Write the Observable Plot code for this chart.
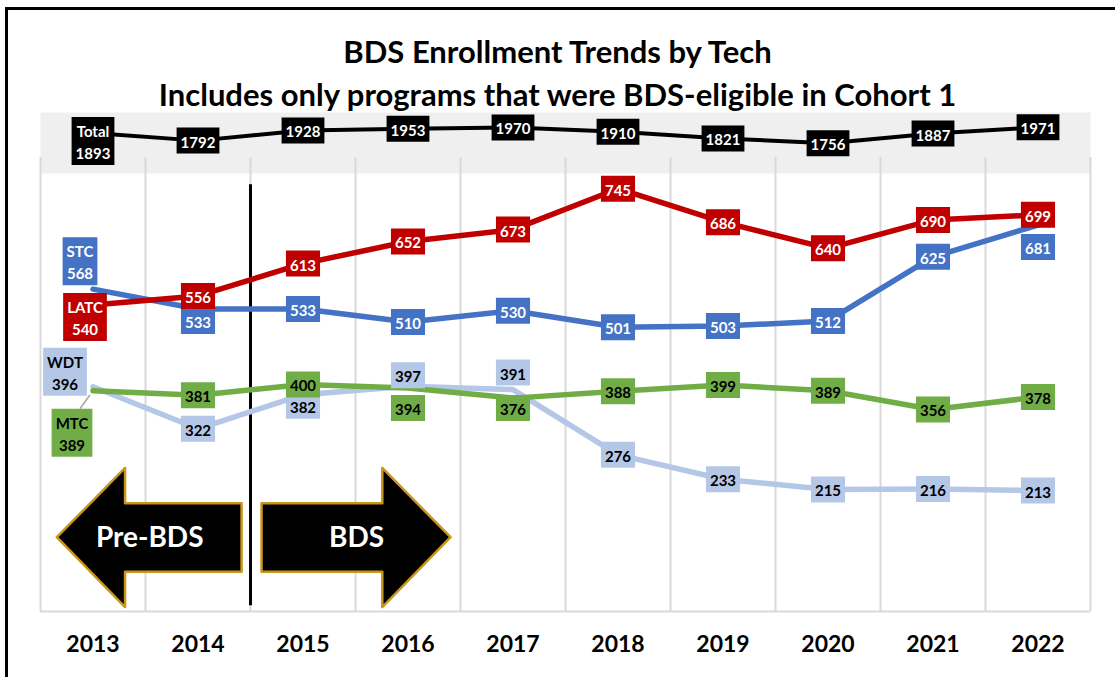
<!DOCTYPE html>
<html>
<head>
<meta charset="utf-8">
<script src="https://cdn.jsdelivr.net/npm/d3@7"></script>
<script src="https://cdn.jsdelivr.net/npm/@observablehq/plot@0.6"></script>
<style>
  html, body { margin: 0; padding: 0; background: #fff; overflow: hidden; }
  #wrap { position: relative; width: 1115px; height: 677px; overflow: hidden; font-family: Lato, "DejaVu Sans", sans-serif; }
  #border { position: absolute; left: 5px; top: 7px; width: 1200px; height: 800px; border-top: 3px solid #000; border-left: 3px solid #000; }
  .ttl { position: absolute; left: 0; width: 1115px; text-align: center; font-weight: bold; font-size: 31px; line-height: 36px; color: #000; }
  #total, #main { position: absolute; left: 0; }
</style>
</head>
<body>
<div id="wrap">
  <div id="border"></div>
  <div class="ttl" style="top:33px">BDS Enrollment Trends by Tech</div>
  <div class="ttl" style="top:76px">Includes only programs that were BDS-eligible in Cohort 1</div>
  <div id="total" style="top:100px"></div>
  <div id="main" style="top:0px"></div>
</div>
<script>
// ---------- data ----------
const years = [2013, 2014, 2015, 2016, 2017, 2018, 2019, 2020, 2021, 2022];
const totalEnrollment = [1893, 1792, 1928, 1953, 1970, 1910, 1821, 1756, 1887, 1971];
const latc = [540, 556, 613, 652, 673, 745, 686, 640, 690, 699];
const stc  = [568, 533, 533, 510, 530, 501, 503, 512, 625, 681];
const wdt  = [396, 322, 382, 397, 391, 276, 233, 215, 216, 213];
const mtc  = [389, 381, 400, 394, 376, 388, 399, 389, 356, 378];
const seriesNames = ["WDT", "MTC", "STC", "LATC"];
const seriesValues = {LATC: latc, STC: stc, WDT: wdt, MTC: mtc};
const xTickLabels = years.map(String);

// ---------- annotations ----------
const phaseDivider = {x: 2014.5, y1: 10, y2: 752};
const arrows = [
  {label: "Pre-BDS", tip: 2012.66, base: 2013.31, tail: 2014.42},
  {label: "BDS", tip: 2016.41, base: 2015.76, tail: 2014.61}
];
const arrowShaft = [69, 190], arrowHead = [7, 252], arrowMid = 130;
// leader line for the MTC series label at the first year
const leader = {year: 2013, series: "MTC"};

// ---------- styles ----------
const colors = {LATC: "#c00000", STC: "#4472c4", WDT: "#b4c7e7", MTC: "#70ad47", Total: "#000000"};
const textColors = {LATC: "#ffffff", STC: "#ffffff", WDT: "#000000", MTC: "#000000", Total: "#ffffff"};
// label nudges in pixels [dx, dy]
const nudge = {
  "STC-2013": [-13, -28], "LATC-2013": [-8, 12], "WDT-2013": [-28, -15], "MTC-2013": [-21, 42],
  "STC-2014": [0, 12], "STC-2022": [0, 22],
  "WDT-2015": [0, 11], "WDT-2016": [0, -11], "WDT-2017": [0, -17],
  "MTC-2016": [0, 20], "MTC-2017": [0, 10],
  "Total-2013": [0, 8]
};

const FONT = "Lato";
const LABEL_SIZE = 15;
const ctx = document.createElement("canvas").getContext("2d");
ctx.font = `bold ${LABEL_SIZE}px ${FONT}`;
const boxSymbol = (w, h) => ({draw(c) { c.moveTo(-w/2, -h/2); c.lineTo(w/2, -h/2); c.lineTo(w/2, h/2); c.lineTo(-w/2, h/2); c.closePath(); }});

function labelMarks(rows, series, yField) {
  const marks = [];
  rows.forEach((d, i) => {
    const text = i === 0 ? `${series}\n${d[yField]}` : String(d[yField]);
    const lines = text.split("\n");
    const w = Math.max(...lines.map(l => ctx.measureText(l).width)) + 8;
    const h = lines.length * 22 + 4;
    const [dx, dy] = nudge[`${series}-${d.year}`] || [0, 0];
    marks.push(Plot.dot([d], {x: "year", y: yField, symbol: boxSymbol(w, h), fill: colors[series], stroke: "none", dx, dy}));
    marks.push(Plot.text([d], {x: "year", y: yField, text: () => text, fill: textColors[series], fontSize: LABEL_SIZE, fontWeight: "bold", lineHeight: 1.45, dx, dy}));
  });
  return marks;
}

const xScale = {domain: [2012.5, 2022.5]};
const boundaries = years.map(y => y - 0.5).concat([years[years.length - 1] + 0.5]);

// ---------- total band ----------
const totalRows = years.map((year, i) => ({year, total: totalEnrollment[i]}));
const totalPlot = Plot.plot({
  width: 1115, height: 80,
  marginLeft: 40, marginRight: 25, marginTop: 12, marginBottom: 7,
  x: {...xScale, axis: null},
  y: {domain: [1350, 2170], axis: null},
  style: {background: "transparent", fontFamily: FONT, overflow: "visible"},
  marks: [
    Plot.frame({fill: "#efefef", stroke: "none"}),
    Plot.line(totalRows, {x: "year", y: "total", stroke: colors.Total, strokeWidth: 4}),
    ...labelMarks(totalRows, "Total", "total")
  ]
});
document.getElementById("total").appendChild(totalPlot);

// ---------- main chart ----------
const rows = [];
for (const s of seriesNames) years.forEach((year, i) => rows.push({series: s, year, value: seriesValues[s][i]}));

const arrowPts = [];
for (const a of arrows) {
  const pts = [
    {x: a.tip, y1: arrowMid, y2: arrowMid},
    {x: a.base, y1: arrowHead[0], y2: arrowHead[1]},
    {x: a.base, y1: arrowShaft[0], y2: arrowShaft[1]},
    {x: a.tail, y1: arrowShaft[0], y2: arrowShaft[1]}
  ];
  if (a.tip > a.tail) pts.reverse();
  pts.forEach(p => arrowPts.push({...p, label: a.label}));
}

const leaderRow = rows.find(d => d.series === leader.series && d.year === leader.year);
const [ldx, ldy] = nudge[`${leader.series}-${leader.year}`];

const mainMarks = [
  Plot.ruleX(boundaries, {stroke: "#d9d9d9", strokeWidth: 2}),
  Plot.ruleY([0], {stroke: "#d9d9d9", strokeWidth: 2}),
  Plot.ruleX([phaseDivider], {x: "x", y1: "y1", y2: "y2", stroke: "#000", strokeWidth: 3}),
  Plot.areaY(arrowPts, {x: "x", y1: "y1", y2: "y2", z: "label", fill: "#000", stroke: "#c9961a", strokeWidth: 2.5}),
  Plot.text(arrows, {x: d => (d.tip + d.tail) / 2, y: () => arrowMid, text: "label", fill: "#fff", fontSize: 28, fontWeight: "bold"}),
  Plot.axisX({ticks: years, tickFormat: (d) => xTickLabels[years.indexOf(d)], tickSize: 0, tickPadding: 24, fontSize: 23, fontWeight: "bold", fill: "#000"})
];
for (const s of seriesNames) {
  mainMarks.push(Plot.line(rows.filter(d => d.series === s), {x: "year", y: "value", stroke: colors[s], strokeWidth: 5.5, curve: "linear"}));
}
// leader line from point to its displaced label
mainMarks.push(Plot.link([leaderRow], {
  x1: "year", y1: "value", x2: "year", y2: "value",
  render: (index, scales, values, dims, context, next) => {
    const g = next(index, scales, values, dims, context);
    const path = g.querySelector("path, line");
    if (path) {
      const x = values.x1[0], y = values.y1[0];
      path.setAttribute("d", `M${x - 3},${y + 4}L${x + ldx + 8},${y + ldy - 24}`);
    }
    return g;
  },
  stroke: "#a6a6a6", strokeWidth: 1.5
}));
for (const s of seriesNames) {
  mainMarks.push(...labelMarks(rows.filter(d => d.series === s), s, "value"));
}

const mainPlot = Plot.plot({
  width: 1115, height: 677,
  marginLeft: 40, marginRight: 25, marginTop: 157, marginBottom: 66,
  x: {...xScale, axis: null},
  y: {domain: [0, 800], axis: null},
  style: {background: "transparent", fontFamily: FONT, color: "#000"},
  marks: mainMarks
});
document.getElementById("main").appendChild(mainPlot);
</script>
</body>
</html>
